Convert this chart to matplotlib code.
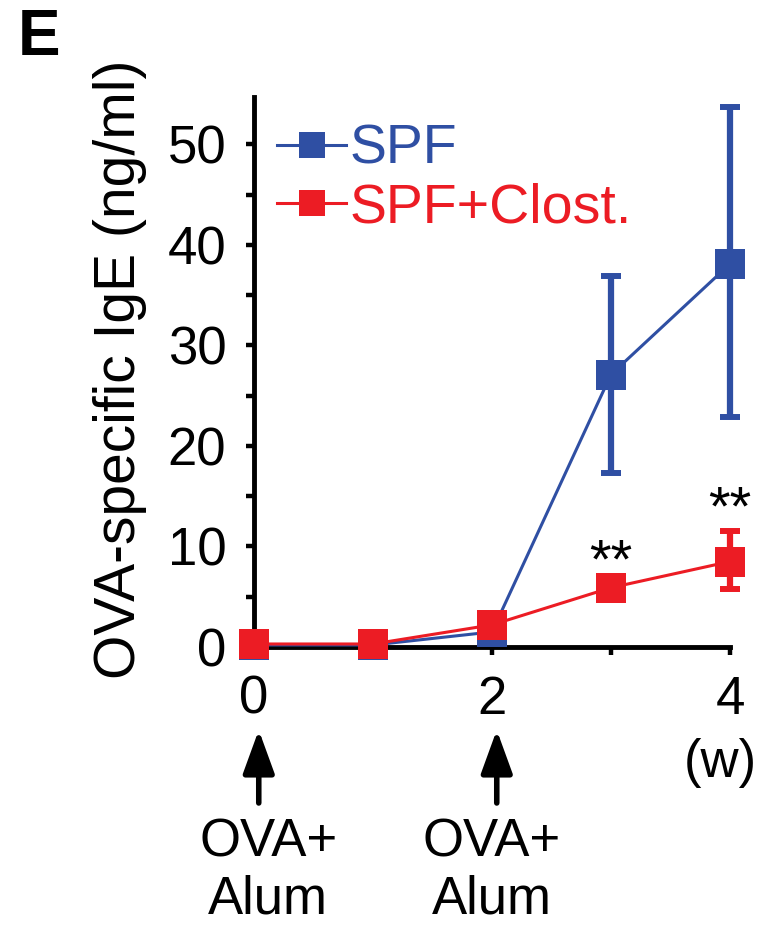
import matplotlib
matplotlib.use("Agg")
import matplotlib.pyplot as plt
from matplotlib.ticker import MultipleLocator

plt.rcParams['font.family'] = ['Liberation Sans', 'DejaVu Sans']

# data (OVA-specific IgE, ng/ml)
weeks = [0, 1, 2, 3, 4]
spf_mean = [0.2, 0.2, 1.5, 27.1, 38.1]
spf_err_low = [0, 0, 0, 9.8, 15.2]
spf_err_high = [0, 0, 0, 9.8, 15.6]
clost_mean = [0.3, 0.3, 2.2, 5.9, 8.5]
clost_err_low = [0, 0, 0, 0, 2.7]
clost_err_high = [0, 0, 0, 0, 3.0]

sig_weeks = [3, 4]
sig_y = [10.0, 15.2]
sig_text = ['**', '**']

event_weeks = [0, 2]
event_text = 'OVA+\nAlum'
xtick_pos = [0, 1, 2, 3, 4]
xtick_labels = ['0', '', '2', '', '4']

blue = '#2f4fa3'
red = '#ec1c24'

fig = plt.figure(figsize=(7.62, 9.30), dpi=100)
ax = fig.add_axes([254 / 762, 283 / 930, 476 / 762, 550 / 930])

# error bars first, then lines + markers on top
ax.errorbar(weeks, spf_mean, yerr=[spf_err_low, spf_err_high], fmt='none',
            ecolor=blue, elinewidth=4.5, capsize=7.2, capthick=4.3, zorder=2, clip_on=False)
line_spf, = ax.plot(weeks, spf_mean, color=blue, lw=2.2, marker='s', markersize=21,
                    markeredgewidth=0, label='SPF', zorder=3, clip_on=False)
ax.errorbar(weeks, clost_mean, yerr=[clost_err_low, clost_err_high], fmt='none',
            ecolor=red, elinewidth=4.5, capsize=7.2, capthick=4.3, zorder=4, clip_on=False)
line_clost, = ax.plot(weeks, clost_mean, color=red, lw=2.2, marker='s', markersize=21,
                      markeredgewidth=0, label='SPF+Clost.', zorder=5, clip_on=False)

# significance stars
for w, y, s in zip(sig_weeks, sig_y, sig_text):
    ax.annotate(s, xy=(w, y), xytext=(0, -22), textcoords='offset points',
                ha='center', va='baseline', fontsize=40)

# axes styling
ax.set_xlim(0, 4)
ax.set_ylim(0, 54.7)
ax.spines['top'].set_visible(False)
ax.spines['right'].set_visible(False)
ax.spines['left'].set_linewidth(3.5)
ax.spines['bottom'].set_linewidth(3.5)
ax.set_xticks(xtick_pos)
ax.set_xticklabels(xtick_labels)
ax.yaxis.set_major_locator(MultipleLocator(10))
ax.yaxis.set_minor_locator(MultipleLocator(5))
ax.tick_params(axis='both', which='both', direction='out', length=6, width=3.2,
               labelsize=38, pad=14)
ax.tick_params(axis='y', which='minor', labelleft=False)

ax.set_ylabel('OVA-specific IgE (ng/ml)', fontsize=41)
ax.yaxis.set_label_coords(-0.225, 0.505)

leg = ax.legend(handles=[line_spf, line_clost], loc='upper left',
                bbox_to_anchor=(23 / 476, 0.951), frameon=False, fontsize=40,
                borderpad=0, borderaxespad=0, handlelength=1.25, handletextpad=0.05,
                labelspacing=0.12, markerscale=0.9, labelcolor='linecolor', numpoints=1)

# immunisation arrows and labels under the x axis
for w in event_weeks:
    ax.annotate('', xy=(w + 0.04, 930 - 730), xytext=(w + 0.04, 930 - 803),
                xycoords=('data', 'figure pixels'), textcoords=('data', 'figure pixels'),
                arrowprops=dict(arrowstyle='-|>,head_length=0.66,head_width=0.24',
                                color='black', lw=4, mutation_scale=40,
                                shrinkA=0, shrinkB=0),
                annotation_clip=False)
    ax.annotate(event_text, xy=(w + (0.12 if w == 0 else 0.0), 930 - 871),
                xycoords=('data', 'figure pixels'), ha='center', va='center',
                fontsize=38, linespacing=1.2, annotation_clip=False)

ax.annotate('(w)', xy=(3.92, 930 - 763), xycoords=('data', 'figure pixels'),
            ha='center', va='center', fontsize=38, annotation_clip=False)

fig.text(18 / 762, 1 - 8 / 930, 'E', ha='left', va='top', fontsize=46, fontweight='bold')

fig.savefig('out.png', dpi=100)
